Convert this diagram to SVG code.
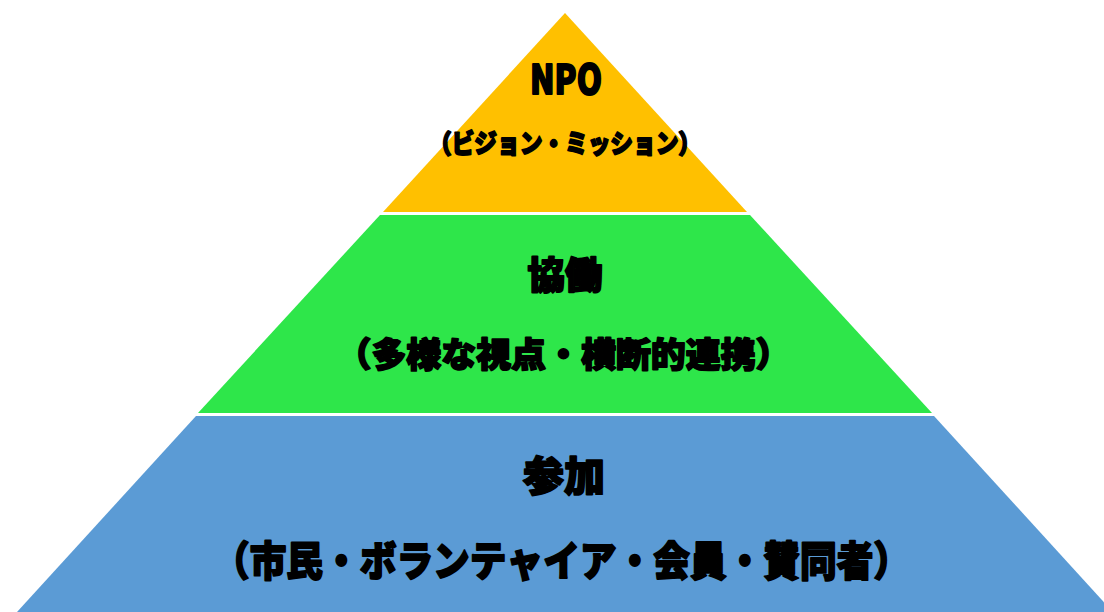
<svg xmlns="http://www.w3.org/2000/svg" width="1104" height="612" viewBox="0 0 1104 612">
<style>
.t{font-family:"Noto Sans CJK JP","Noto Sans",sans-serif;font-weight:900;fill:#000;stroke:#000;stroke-width:1.8;stroke-linejoin:round;text-anchor:middle;dominant-baseline:central}
</style>
<rect width="1104" height="612" fill="#fff"/>
<g id="tier-npo">
<polygon points="565,13 383,212 747,212" fill="#FFC000"/>
<text class="t" x="566" y="77" font-size="40" textLength="72" lengthAdjust="spacingAndGlyphs">NPO</text>
<text class="t" x="565" y="141" font-size="26" textLength="272" lengthAdjust="spacingAndGlyphs">（ビジョン・ミッション）</text>
</g>
<g id="tier-kyodo">
<polygon points="380,215 750,215 932,413 198,413" fill="#2EE64A"/>
<text class="t" x="565" y="273" font-size="37" textLength="75" lengthAdjust="spacingAndGlyphs">協働</text>
<text class="t" x="563.5" y="352" font-size="34" textLength="454" lengthAdjust="spacingAndGlyphs">（多様な視点・横断的連携）</text>
</g>
<g id="tier-sanka">
<polygon points="196,416 934,416 1113,612 17,612" fill="#5B9BD5"/>
<text class="t" x="564" y="473" font-size="41" textLength="82" lengthAdjust="spacingAndGlyphs">参加</text>
<text class="t" x="561.5" y="558" font-size="41" textLength="697" lengthAdjust="spacingAndGlyphs">（市民・ボランテャイア・会員・賛同者）</text>
</g>
<g id="connectors"></g>
</svg>
